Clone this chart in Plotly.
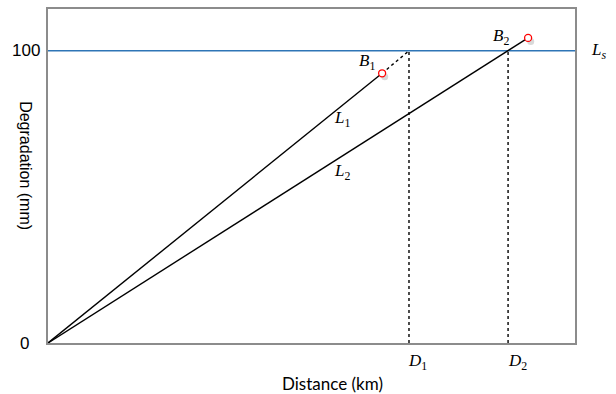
import plotly.graph_objects as go

# ---- data (arbitrary units) ----
x_max = 100.0          # right end of distance axis
y_max = 114.3          # top of degradation axis
threshold = 100.0      # Ls limit
b1 = (63.4, 92.3)      # point B1 on L1
b2 = (91.1, 104.4)     # point B2 on L2
d1 = 68.5              # L1 reaches the limit
d2 = 87.3              # L2 reaches the limit
y_ticks = [0, 100]
y_tick_labels = ["0", "100"]

black = "#000000"
blue = "#2E75B6"
serif = "Liberation Serif"
sans = "Liberation Sans"

fig = go.Figure()

# limit line Ls
fig.add_trace(go.Scatter(x=[0, x_max], y=[threshold, threshold], mode="lines",
                         line=dict(color=blue, width=1.5), hoverinfo="skip"))
# L1 solid + dotted extension
fig.add_trace(go.Scatter(x=[0, b1[0]], y=[0, b1[1]], mode="lines",
                         line=dict(color=black, width=1.4), hoverinfo="skip"))
fig.add_trace(go.Scatter(x=[b1[0], d1], y=[b1[1], threshold], mode="lines",
                         line=dict(color=black, width=1.4, dash="dot"), hoverinfo="skip"))
# verticals
fig.add_trace(go.Scatter(x=[d1, d1], y=[0, threshold], mode="lines",
                         line=dict(color=black, width=1.4, dash="dot"), hoverinfo="skip"))
fig.add_trace(go.Scatter(x=[d2, d2], y=[0, threshold], mode="lines",
                         line=dict(color=black, width=1.4, dash="dot"), hoverinfo="skip"))
# L2
fig.add_trace(go.Scatter(x=[0, b2[0]], y=[0, b2[1]], mode="lines",
                         line=dict(color=black, width=1.4), hoverinfo="skip"))
# marker shadows
fig.add_trace(go.Scatter(x=[b1[0] + 0.5, b2[0] + 0.5], y=[b1[1] - 1.2, b2[1] - 1.2],
                         mode="markers", marker=dict(size=7, color="#d9d9d9"),
                         hoverinfo="skip"))
# markers
fig.add_trace(go.Scatter(x=[b1[0], b2[0]], y=[b1[1], b2[1]], mode="markers",
                         marker=dict(size=7, color="white", line=dict(color="red", width=1.3)),
                         hoverinfo="skip"))

ann = []
def math(text, x, y, xref="x", yref="y", **kw):
    ann.append(dict(text=text, x=x, y=y, xref=xref, yref=yref, showarrow=False,
                    font=dict(family=serif, size=17, color=black), **kw))

math("<i>B</i><sub>1</sub>", 60.6, 96.0)
math("<i>B</i><sub>2</sub>", 86.0, 104.6)
math("<i>L</i><sub>1</sub>", 55.8, 76.5)
math("<i>L</i><sub>2</sub>", 55.8, 58.5)
math("<i>L</i><sub><i>s</i></sub>", 1.063, threshold, xref="paper")
math("<i>D</i><sub>1</sub>", d1, 0, yref="paper", xanchor="left", yanchor="top", xshift=-3, yshift=-6)
math("<i>D</i><sub>2</sub>", d2, 0, yref="paper", xanchor="left", yanchor="top", xshift=-2, yshift=-6)

# tick labels
for v, lab in zip(y_ticks, y_tick_labels):
    ann.append(dict(text=lab, x=0, y=v, xref="paper", yref="y", showarrow=False,
                    xanchor="right", yanchor="middle", xshift=-6 if v else -17,
                    font=dict(family=sans, size=17, color=black)))

# axis titles
ann.append(dict(text="Distance (km)", x=0.539, y=-0.122, xref="paper", yref="paper",
                showarrow=False, xanchor="center", yanchor="middle",
                font=dict(family="Lato", size=17, color=black)))
ann.append(dict(text="Degradation (mm)", x=-0.044, y=0.53, xref="paper", yref="paper",
                showarrow=False, xanchor="center", yanchor="middle", textangle=90,
                font=dict(family=sans, size=16, color=black)))

fig.update_layout(
    width=616, height=394,
    margin=dict(l=48, r=41, t=7, b=51),
    paper_bgcolor="white", plot_bgcolor="white",
    showlegend=False,
    annotations=ann,
    xaxis=dict(range=[0, x_max], showticklabels=False, ticks="", showgrid=False,
               zeroline=False, showline=True, mirror=True, linecolor="#8c8c8c", linewidth=1.5),
    yaxis=dict(range=[0, y_max], showticklabels=False, ticks="", showgrid=False,
               zeroline=False, showline=True, mirror=True, linecolor="#8c8c8c", linewidth=1.5),
)

fig.write_html("out.html", config={"displayModeBar": False},
               post_script="document.body.style.margin='0';document.body.style.overflow='hidden';")
